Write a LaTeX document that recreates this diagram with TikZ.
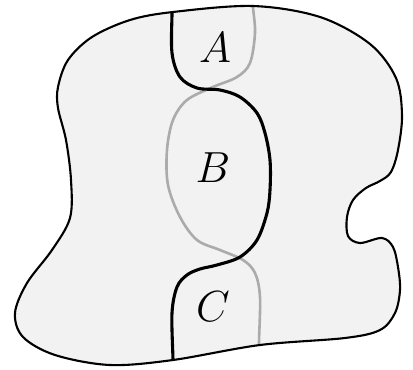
\documentclass[tikz,border=0pt]{standalone}
\definecolor{regionfill}{HTML}{F2F2F2}
\definecolor{lightline}{HTML}{ABABAB}
\tikzset{
  outlinestyle/.style={draw=black, line width=2.1pt},
  darkcurve/.style={draw=black, line width=3.1pt},
  lightcurve/.style={draw=lightline, line width=2.6pt},
  letter/.style={font=\huge, inner sep=0pt, scale=2.1}
}
\def\outlinepath{plot[smooth cycle, tension=0.55] coordinates {(58,87) (68,60) (92,37) (130,20) (173,12) (253,6) (320,17) (370,44) (396,78) (402,115) (398,150) (391,172) (380,181) (366,188) (353,200) (347,217) (348,236) (360,243) (382,238) (393,247) (398,267) (400,290) (395,313) (380,330) (345,338) (260,345) (173,360) (110,365) (55,355) (23,337) (15,313) (27,283) (52,250) (70,218) (71,180) (66,140) (58,108)}}
\begin{document}
\begin{tikzpicture}[x=1pt, y=-1pt]
\useasboundingbox (0,0) rectangle (413,370);
\fill[regionfill] \outlinepath;
\begin{scope}
  \clip \outlinepath;
  \draw[lightcurve] plot[smooth, tension=0.55] coordinates {(253,-5) (253,7) (255,33) (250,63) (237,77) (213,87) (187,100) (173,120) (167,150) (168,185) (180,217) (197,240) (220,250) (243,260) (255,273) (260,297) (259,343) (259,375)};
  \draw[darkcurve] plot[smooth, tension=0.55] coordinates {(172,-5) (172,13) (172,53) (180,77) (197,88) (220,90) (240,97) (257,113) (265,133) (270,160) (270,190) (267,213) (257,240) (240,257) (217,265) (200,269) (187,275) (177,287) (172,313) (173,360) (173,375)};
\end{scope}
\draw[outlinestyle] \outlinepath;
\node[letter] (A) at (215,48) {$A$};
\node[letter] (B) at (213,168) {$B$};
\node[letter] (C) at (213,307) {$C$};
\end{tikzpicture}
\end{document}
